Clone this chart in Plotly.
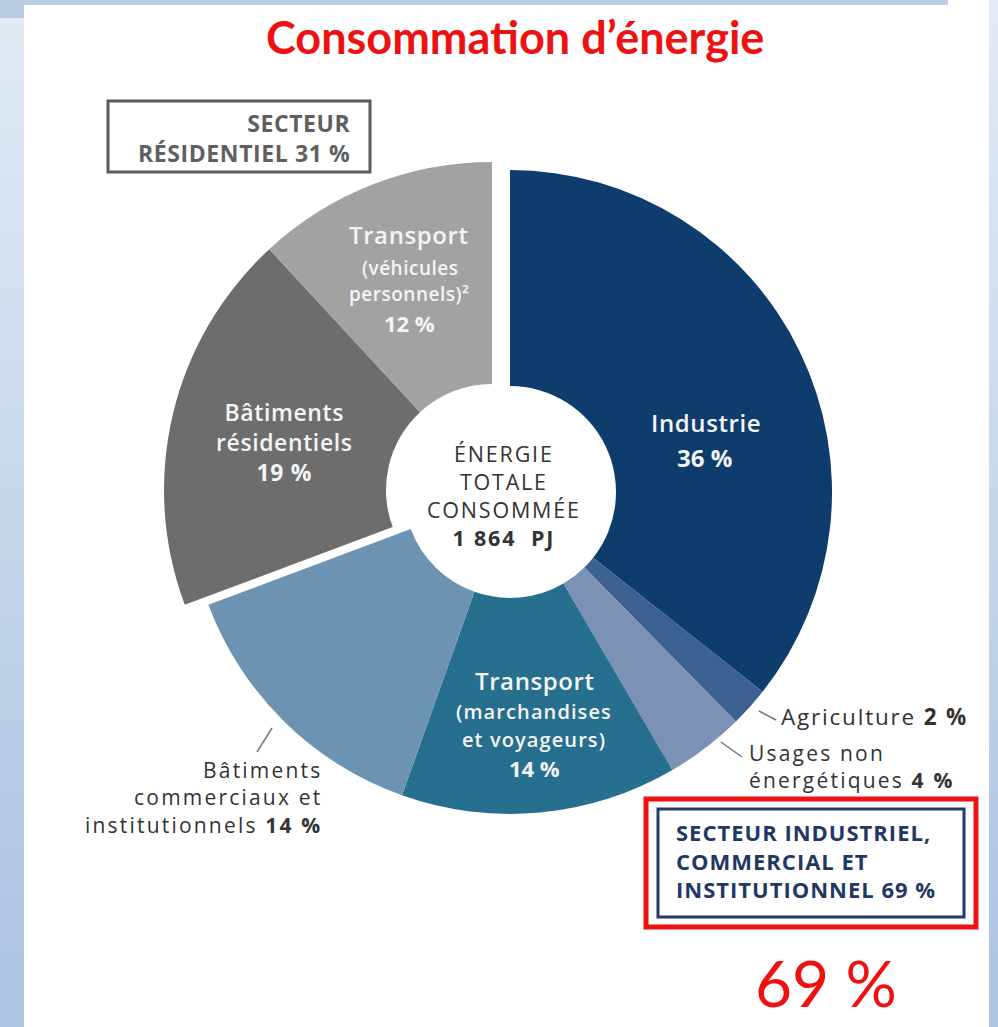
import plotly.graph_objects as go

# ---------------- data ----------------
categories = [
    "Industrie",
    "Agriculture",
    "Usages non énergétiques",
    "Transport (marchandises et voyageurs)",
    "Bâtiments commerciaux et institutionnels",
    "Bâtiments résidentiels",
    "Transport (véhicules personnels)",
]
shares = [36, 2, 4, 14, 14, 19, 12]
sectors = ["ICI", "ICI", "ICI", "ICI", "ICI", "RES", "RES"]
slice_colors = ["#0d3c6d", "#3c6190", "#7b92b4", "#276f8f", "#6d93b2", "#6d6d6d", "#a2a2a2"]
total_label = "1 864  PJ"
residential_total = 31
ici_total = 69

W, H = 998, 1027


def px(x):
    return x / W


def py(y):
    return 1 - y / H


fig = go.Figure()

# pie geometry (pixels): centre x, centre y, radius for each sector group
geom = {"ICI": (510, 492, 322), "RES": (492, 490, 328)}
HOLE_R = 106


def dom(cx_, cy_, r_):
    return dict(x=[px(cx_ - r_), px(cx_ + r_)], y=[py(cy_ + r_), py(cy_ - r_)])


for grp in ["ICI", "RES"]:
    gx, gy, gr = geom[grp]
    cols = [c if s == grp else "rgba(0,0,0,0)" for c, s in zip(slice_colors, sectors)]
    fig.add_trace(go.Pie(
        labels=categories,
        values=shares,
        sort=False,
        direction="clockwise",
        rotation=0,
        hole=HOLE_R / gr,
        marker=dict(colors=cols, line=dict(width=0)),
        textinfo="none",
        hoverinfo="skip",
        showlegend=False,
        domain=dom(gx, gy, gr),
    ))

shapes = []
# background: light-blue frame with gradient
n = 40
for i in range(n):
    t = i / (n - 1)
    c0 = (226, 234, 245)
    c1 = (172, 195, 226)
    c = tuple(int(c0[k] + (c1[k] - c0[k]) * t) for k in range(3))
    col = "rgb(%d,%d,%d)" % c
    y0 = i * H / n
    y1 = (i + 1) * H / n + 1
    shapes.append(dict(type="rect", xref="paper", yref="paper", x0=0, x1=px(24),
                       y0=py(y1), y1=py(y0), fillcolor=col, line=dict(width=0), layer="below"))
    shapes.append(dict(type="rect", xref="paper", yref="paper", x0=px(989), x1=1,
                       y0=py(y1), y1=py(y0), fillcolor=col, line=dict(width=0), layer="below"))
# top band
shapes.append(dict(type="rect", xref="paper", yref="paper", x0=0, x1=px(948), y0=py(5), y1=1,
                   fillcolor="#b8cce4", line=dict(width=0), layer="below"))
shapes.append(dict(type="rect", xref="paper", yref="paper", x0=0, x1=px(24), y0=py(18), y1=1,
                   fillcolor="#b8cce4", line=dict(width=0), layer="below"))
# white panel
shapes.append(dict(type="rect", xref="paper", yref="paper", x0=px(24), x1=px(989), y0=0, y1=py(5),
                   fillcolor="#ffffff", line=dict(width=0), layer="below"))

# boxes
shapes.append(dict(type="rect", xref="paper", yref="paper", x0=px(108), x1=px(370), y0=py(172), y1=py(101),
                   line=dict(color="#5b5b5b", width=3), fillcolor="rgba(0,0,0,0)"))
shapes.append(dict(type="rect", xref="paper", yref="paper", x0=px(658), x1=px(964), y0=py(917), y1=py(809),
                   line=dict(color="#1f3b66", width=3), fillcolor="rgba(0,0,0,0)"))
shapes.append(dict(type="rect", xref="paper", yref="paper", x0=px(646), x1=px(976), y0=py(927), y1=py(799),
                   line=dict(color="#ee1111", width=5), fillcolor="rgba(0,0,0,0)"))

# leader lines
for (x0, y0, x1, y1) in [(759, 711, 776, 720), (721, 742, 742, 757), (272, 728, 257, 752)]:
    shapes.append(dict(type="line", xref="paper", yref="paper", x0=px(x0), y0=py(y0), x1=px(x1), y1=py(y1),
                       line=dict(color="#777777", width=1.5)))

ann = []


def txt(lines, x, y, size, color, anchor="center", family="Open Sans", weight="normal", ls=None):
    if isinstance(lines, str):
        lines = [lines]
    if ls is not None:
        lines = ['<span style="letter-spacing:%spx">%s</span>' % (ls, p) for p in lines]
    ann.append(dict(text="<br>".join(lines), x=px(x), y=py(y), xref="paper", yref="paper", showarrow=False,
                    xanchor=anchor, yanchor="middle", align=anchor if anchor != "center" else "center",
                    font=dict(size=size, color=color, family=family, weight=weight)))


# title
txt("Consommation d’énergie", 515, 37, 45, "#ee1111", family="Lato", weight="bold")
# 69 %
txt("%d %%" % ici_total, 826, 982, 64, "#ee1111", family="Lato")

white = "#f4f4f4"
SB = 600
# inside labels
txt(categories[0], 706, 422, 24, white, weight=SB, ls=0.6)
txt("<b>%d %%</b>" % shares[0], 704, 457, 24, white)
txt("Transport", 535, 680, 24, white, weight=SB, ls=0.6)
txt("(marchandises", 534, 711, 20, white, weight=SB, ls=1.1)
txt("et voyageurs)", 534, 739, 20, white, weight=SB, ls=1.1)
txt("<b>%d %%</b>" % shares[3], 534, 768, 22, white)
txt(["Bâtiments", "résidentiels", "<b>%d %%</b>" % shares[5]], 284, 442, 23, white, weight=SB, ls=0.6)
txt("Transport", 409, 234, 24, white, weight=SB, ls=0.6)
txt("(véhicules", 410, 268, 19, white, weight=SB, ls=0.5)
txt("personnels)²", 409, 294, 19, white, weight=SB, ls=0.5)
txt("<b>%d %%</b>" % shares[6], 409, 323, 22, white)

dark = "#333333"
# center
txt(["ÉNERGIE", "TOTALE", "CONSOMMÉE", "<b>%s</b>" % total_label], 504, 495, 21.5, dark, ls=1.8)

# outside labels
txt("Agriculture <b>%d %%</b>" % shares[1], 779, 716, 22.5, dark, anchor="left", ls=1.8)
txt(["Usages non", "énergétiques <b>%d %%</b>" % shares[2]], 747, 766, 21, dark, anchor="left", ls=2.2)
txt(["Bâtiments", "commerciaux et", "institutionnels <b>%d %%</b>" % shares[4]], 324, 797, 21, dark,
    anchor="right", ls=2.2)

# boxes text
gray = "#5f5f5f"
txt(["SECTEUR", "RÉSIDENTIEL %d %%" % residential_total], 353, 138, 23, gray, anchor="right",
    weight="bold", ls=0.6)
navy = "#1f3864"
txt(["SECTEUR INDUSTRIEL,", "COMMERCIAL ET", "INSTITUTIONNEL %d %%" % ici_total], 674, 860, 22, navy,
    anchor="left", weight="bold", ls=1.0)

fig.update_layout(
    width=W, height=H, autosize=False,
    margin=dict(l=0, r=0, t=0, b=0, pad=0),
    paper_bgcolor="#ffffff",
    plot_bgcolor="#ffffff",
    shapes=shapes,
    annotations=ann,
    showlegend=False,
)

fig.write_html("out.html", config={"displayModeBar": False},
               post_script="document.body.style.margin='0';document.body.style.overflow='hidden';")
